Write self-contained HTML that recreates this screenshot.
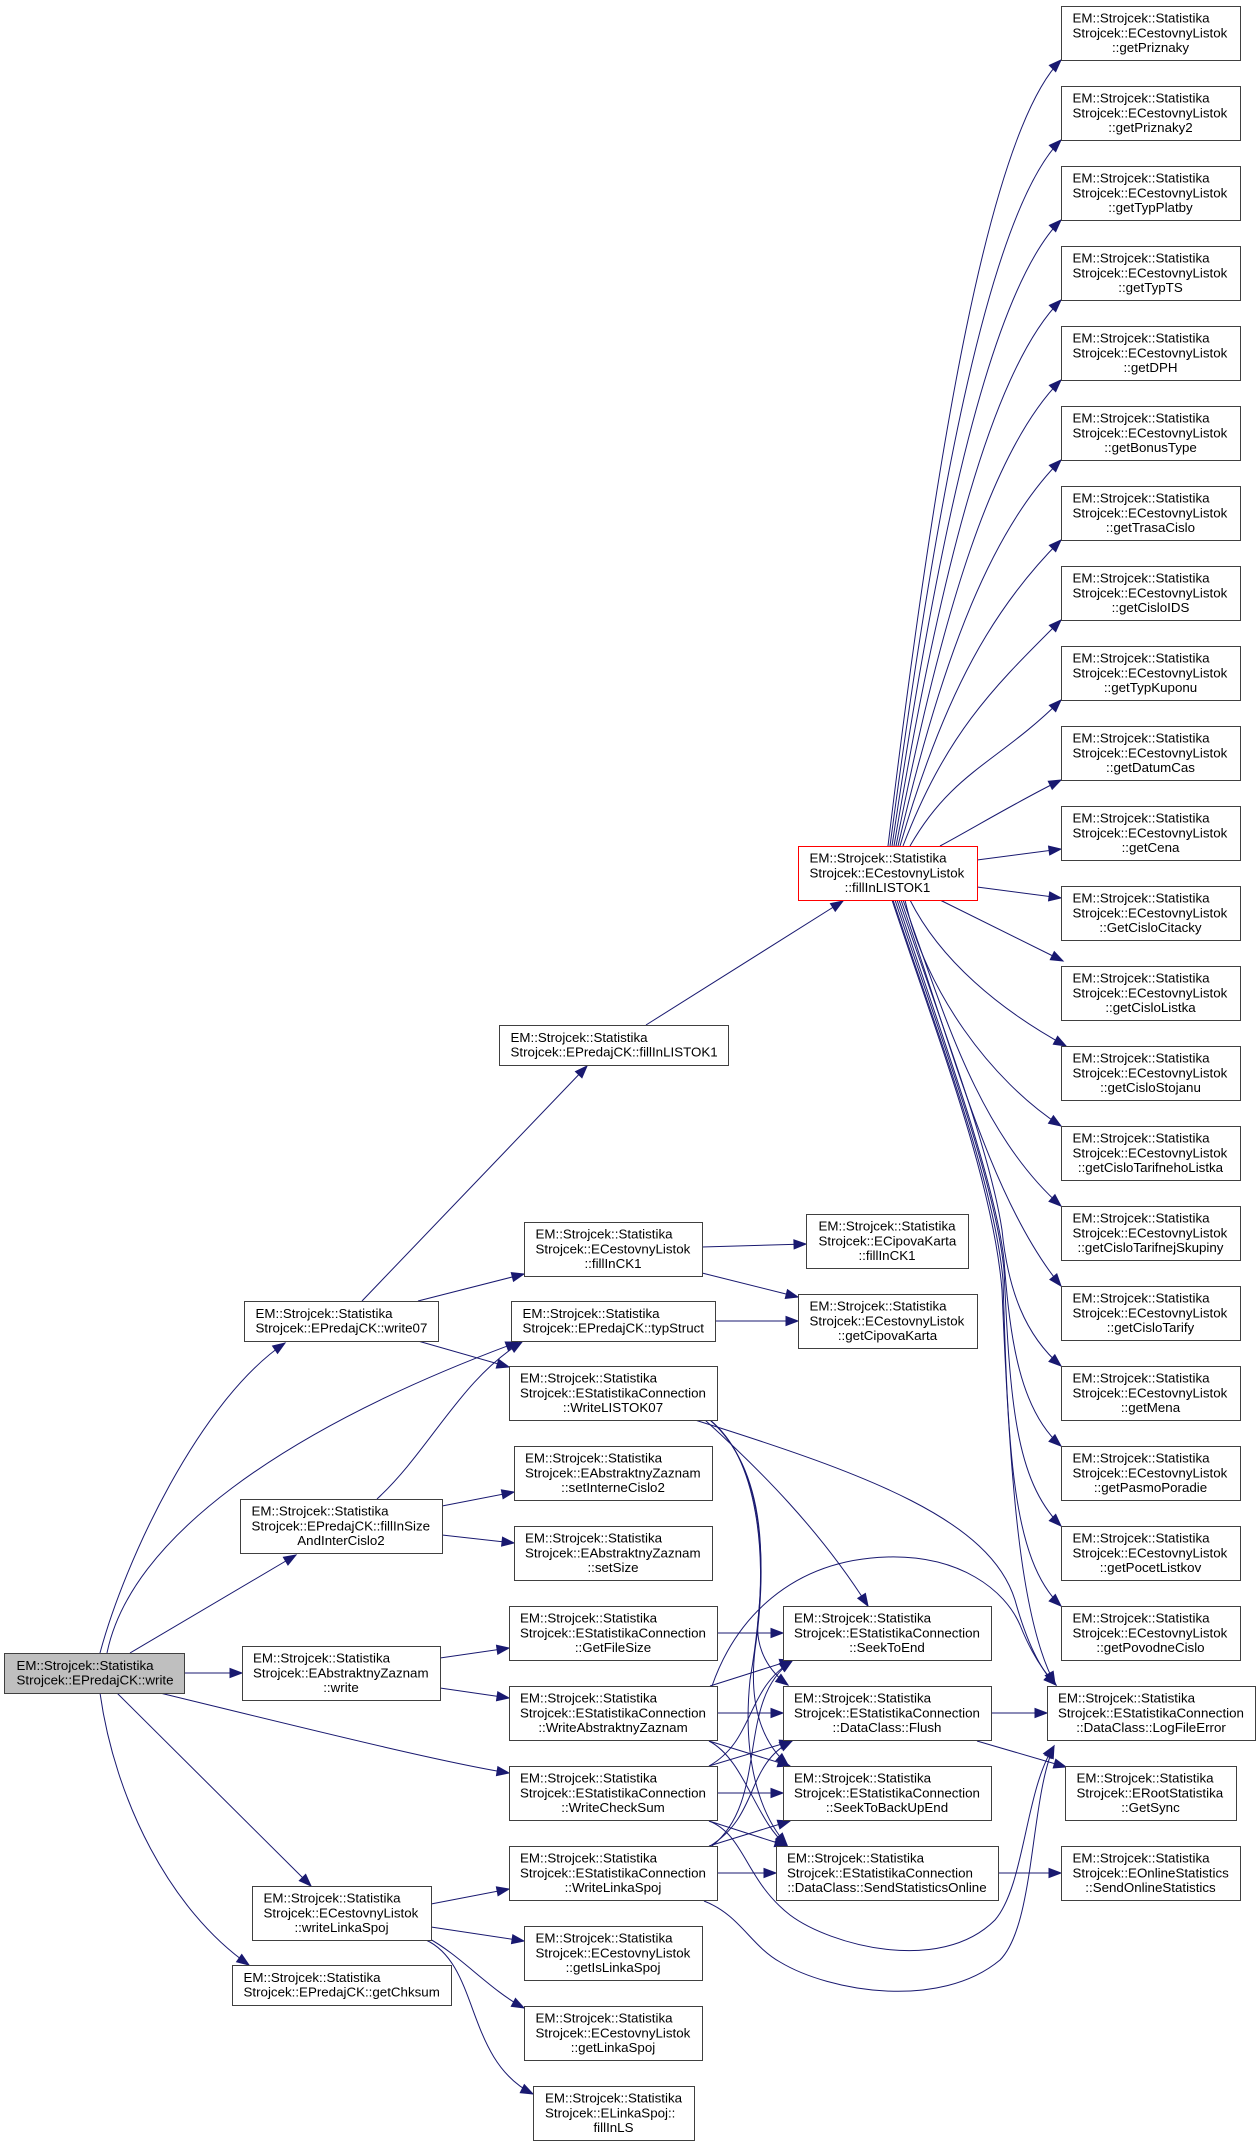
<!DOCTYPE html>
<html><head><meta charset="utf-8"><style>
html,body{margin:0;padding:0;background:#fff;}
svg{display:block;}
rect{fill:#fff;stroke:#404040;stroke-width:1;}
text{font-family:"Liberation Sans",Arial,sans-serif;font-size:13.33px;fill:#000;}
.m{text-anchor:middle;}
.e path{fill:none;stroke:#191970;stroke-width:1;marker-end:url(#a);}
</style></head><body>
<svg width="1260" height="2147" viewBox="0 0 1260 2147" xmlns="http://www.w3.org/2000/svg">
<defs><marker id="a" markerWidth="14" markerHeight="10" refX="12" refY="4.5" orient="auto" markerUnits="userSpaceOnUse" overflow="visible"><path d="M0,0 L12,4.5 L0,9 z" fill="#191970" stroke="#191970" stroke-width="1"/></marker></defs>
<g class="e">
<!-- red fan upper -->
<path d="M888,846 C936.4,445.1 990.1,130.9 1061,60"/>
<path d="M890,846 C937.9,485.9 990.9,210.1 1061,140"/>
<path d="M892,846 C939.3,526.7 991.7,289.3 1061,220"/>
<path d="M894,846 C940.8,567.5 992.5,368.5 1061,300"/>
<path d="M896,846 C942.2,608.3 993.4,447.7 1061,380"/>
<path d="M898,846 C943.6,649.1 994.2,526.8 1061,460"/>
<path d="M900,846 C945.1,689.9 995,606 1061,540"/>
<path d="M903,846 C947.2,730.7 996.2,684.8 1061,620"/>
<path d="M910,846 C952.3,771.5 999.1,761.9 1061,700"/>
<path d="M940,846 C970,830 1020,800 1061,780"/>
<path d="M977,860 L1061,849"/>
<path d="M977,887 L1061,898"/>
<path d="M940,900 L1063,961"/>
<path d="M910,900 C940,960 1000,1010 1066,1046"/>
<path d="M905,900 C925,990 990,1080 1061,1126"/>
<path d="M903,900 C940,1000 975,1130 1061,1206"/>
<path d="M901,900 C950,1040 990,1200 1061,1286"/>
<path d="M899,900 C940,1020 990,1150 1002,1230 C1008,1290 1025,1335 1061,1366"/>
<path d="M897,900 C940,1030 995,1180 1004,1260 C1010,1340 1020,1410 1061,1446"/>
<path d="M895,900 C938,1030 995,1180 1004,1270 C1010,1400 1015,1480 1061,1526"/>
<path d="M893,900 C936,1030 994,1180 1003,1280 C1008,1450 1012,1560 1061,1606"/>
<path d="M892,900 C935,1030 993,1180 1002,1290 C1010,1480 1020,1620 1055,1684"/>
<!-- upper left -->
<path d="M362,1301 L587,1066"/>
<path d="M646,1025 L843,901"/>
<path d="M418,1301 L524,1274"/>
<path d="M418,1341 L509,1367"/>
<path d="M702,1247 L806,1244"/>
<path d="M702,1273 L798,1297"/>
<path d="M715,1321 L798,1321"/>
<path d="M100,1653 C125,1560 200,1400 285,1343"/>
<path d="M107,1653 C130,1540 280,1430 518,1342"/>
<path d="M377,1499 C430,1450 460,1380 522,1342"/>
<path d="M130,1653 L296,1555"/>
<path d="M184,1673 L242,1673"/>
<path d="M160,1693 C300,1727 440,1762 509,1773"/>
<path d="M117,1693 L311,1886"/>
<path d="M100,1693 C115,1800 170,1910 249,1965"/>
<path d="M442,1506 L514,1492"/>
<path d="M442,1535 L514,1543"/>
<path d="M440,1658 L509,1648"/>
<path d="M440,1688 L509,1698"/>
<path d="M431,1904 L509,1889"/>
<path d="M431,1927 L524,1941"/>
<path d="M428,1938 C460,1955 490,1990 524,2008"/>
<path d="M426,1940 C480,1965 465,2060 533,2094"/>
<!-- col3 -> col4/5 -->
<path d="M717,1633 L783,1633"/>
<path d="M717,1713 L783,1713"/>
<path d="M717,1793 L783,1793"/>
<path d="M717,1873 L776,1873"/>
<path d="M991,1713 L1047,1713"/>
<path d="M977,1741 L1066,1767"/>
<path d="M998,1873 L1061,1873"/>
<path d="M705,1420 C760,1470 820,1530 868,1606"/>
<path d="M695,1420 C870,1475 990,1520 1015,1600 C1022,1625 1035,1665 1056,1685"/>
<path d="M712,1686 C735,1620 790,1560 887,1557 C960,1555 1005,1590 1020,1625 C1028,1645 1040,1668 1056,1685"/>
<path d="M710,1420 C760,1460 765,1560 758,1620 C755,1650 770,1672 788,1685"/>
<path d="M710,1420 C763,1465 768,1560 755,1650 C748,1710 765,1745 788,1765"/>
<path d="M710,1420 C766,1470 770,1560 750,1680 C742,1760 760,1815 787,1845"/>
<path d="M710,1686 L792,1660"/>
<path d="M709,1741 L790,1766"/>
<path d="M709,1741 C745,1760 755,1820 787,1846"/>
<path d="M709,1766 L792,1741"/>
<path d="M709,1766 C755,1740 745,1690 792,1661"/>
<path d="M709,1821 L787,1846"/>
<path d="M709,1821 C745,1835 745,1880 790,1915 C830,1945 940,1975 995,1920 C1025,1885 1025,1790 1054,1746"/>
<path d="M709,1846 L790,1821"/>
<path d="M710,1846 C760,1815 745,1765 792,1741"/>
<path d="M712,1846 C770,1800 735,1700 792,1661"/>
<path d="M704,1901 C740,1915 750,1945 780,1962 C830,1992 940,2010 1000,1960 C1035,1925 1030,1800 1054,1746"/>
</g>
<!-- right column -->
<g transform="translate(1061,6)"><rect x=".5" y=".5" width="179" height="54"/><text x="11.5" y="16.3">EM::Strojcek::Statistika</text><text x="11.5" y="31.3">Strojcek::ECestovnyListok</text><text class="m" x="89.5" y="46">::getPriznaky</text></g>
<g transform="translate(1061,86)"><rect x=".5" y=".5" width="179" height="54"/><text x="11.5" y="16.3">EM::Strojcek::Statistika</text><text x="11.5" y="31.3">Strojcek::ECestovnyListok</text><text class="m" x="89.5" y="46">::getPriznaky2</text></g>
<g transform="translate(1061,166)"><rect x=".5" y=".5" width="179" height="54"/><text x="11.5" y="16.3">EM::Strojcek::Statistika</text><text x="11.5" y="31.3">Strojcek::ECestovnyListok</text><text class="m" x="89.5" y="46">::getTypPlatby</text></g>
<g transform="translate(1061,246)"><rect x=".5" y=".5" width="179" height="54"/><text x="11.5" y="16.3">EM::Strojcek::Statistika</text><text x="11.5" y="31.3">Strojcek::ECestovnyListok</text><text class="m" x="89.5" y="46">::getTypTS</text></g>
<g transform="translate(1061,326)"><rect x=".5" y=".5" width="179" height="54"/><text x="11.5" y="16.3">EM::Strojcek::Statistika</text><text x="11.5" y="31.3">Strojcek::ECestovnyListok</text><text class="m" x="89.5" y="46">::getDPH</text></g>
<g transform="translate(1061,406)"><rect x=".5" y=".5" width="179" height="54"/><text x="11.5" y="16.3">EM::Strojcek::Statistika</text><text x="11.5" y="31.3">Strojcek::ECestovnyListok</text><text class="m" x="89.5" y="46">::getBonusType</text></g>
<g transform="translate(1061,486)"><rect x=".5" y=".5" width="179" height="54"/><text x="11.5" y="16.3">EM::Strojcek::Statistika</text><text x="11.5" y="31.3">Strojcek::ECestovnyListok</text><text class="m" x="89.5" y="46">::getTrasaCislo</text></g>
<g transform="translate(1061,566)"><rect x=".5" y=".5" width="179" height="54"/><text x="11.5" y="16.3">EM::Strojcek::Statistika</text><text x="11.5" y="31.3">Strojcek::ECestovnyListok</text><text class="m" x="89.5" y="46">::getCisloIDS</text></g>
<g transform="translate(1061,646)"><rect x=".5" y=".5" width="179" height="54"/><text x="11.5" y="16.3">EM::Strojcek::Statistika</text><text x="11.5" y="31.3">Strojcek::ECestovnyListok</text><text class="m" x="89.5" y="46">::getTypKuponu</text></g>
<g transform="translate(1061,726)"><rect x=".5" y=".5" width="179" height="54"/><text x="11.5" y="16.3">EM::Strojcek::Statistika</text><text x="11.5" y="31.3">Strojcek::ECestovnyListok</text><text class="m" x="89.5" y="46">::getDatumCas</text></g>
<g transform="translate(1061,806)"><rect x=".5" y=".5" width="179" height="54"/><text x="11.5" y="16.3">EM::Strojcek::Statistika</text><text x="11.5" y="31.3">Strojcek::ECestovnyListok</text><text class="m" x="89.5" y="46">::getCena</text></g>
<g transform="translate(1061,886)"><rect x=".5" y=".5" width="179" height="54"/><text x="11.5" y="16.3">EM::Strojcek::Statistika</text><text x="11.5" y="31.3">Strojcek::ECestovnyListok</text><text class="m" x="89.5" y="46">::GetCisloCitacky</text></g>
<g transform="translate(1061,966)"><rect x=".5" y=".5" width="179" height="54"/><text x="11.5" y="16.3">EM::Strojcek::Statistika</text><text x="11.5" y="31.3">Strojcek::ECestovnyListok</text><text class="m" x="89.5" y="46">::getCisloListka</text></g>
<g transform="translate(1061,1046)"><rect x=".5" y=".5" width="179" height="54"/><text x="11.5" y="16.3">EM::Strojcek::Statistika</text><text x="11.5" y="31.3">Strojcek::ECestovnyListok</text><text class="m" x="89.5" y="46">::getCisloStojanu</text></g>
<g transform="translate(1061,1126)"><rect x=".5" y=".5" width="179" height="54"/><text x="11.5" y="16.3">EM::Strojcek::Statistika</text><text x="11.5" y="31.3">Strojcek::ECestovnyListok</text><text class="m" x="89.5" y="46">::getCisloTarifnehoListka</text></g>
<g transform="translate(1061,1206)"><rect x=".5" y=".5" width="179" height="54"/><text x="11.5" y="16.3">EM::Strojcek::Statistika</text><text x="11.5" y="31.3">Strojcek::ECestovnyListok</text><text class="m" x="89.5" y="46">::getCisloTarifnejSkupiny</text></g>
<g transform="translate(1061,1286)"><rect x=".5" y=".5" width="179" height="54"/><text x="11.5" y="16.3">EM::Strojcek::Statistika</text><text x="11.5" y="31.3">Strojcek::ECestovnyListok</text><text class="m" x="89.5" y="46">::getCisloTarify</text></g>
<g transform="translate(1061,1366)"><rect x=".5" y=".5" width="179" height="54"/><text x="11.5" y="16.3">EM::Strojcek::Statistika</text><text x="11.5" y="31.3">Strojcek::ECestovnyListok</text><text class="m" x="89.5" y="46">::getMena</text></g>
<g transform="translate(1061,1446)"><rect x=".5" y=".5" width="179" height="54"/><text x="11.5" y="16.3">EM::Strojcek::Statistika</text><text x="11.5" y="31.3">Strojcek::ECestovnyListok</text><text class="m" x="89.5" y="46">::getPasmoPoradie</text></g>
<g transform="translate(1061,1526)"><rect x=".5" y=".5" width="179" height="54"/><text x="11.5" y="16.3">EM::Strojcek::Statistika</text><text x="11.5" y="31.3">Strojcek::ECestovnyListok</text><text class="m" x="89.5" y="46">::getPocetListkov</text></g>
<g transform="translate(1061,1606)"><rect x=".5" y=".5" width="179" height="54"/><text x="11.5" y="16.3">EM::Strojcek::Statistika</text><text x="11.5" y="31.3">Strojcek::ECestovnyListok</text><text class="m" x="89.5" y="46">::getPovodneCislo</text></g>
<!-- col5 lower -->
<g transform="translate(1047,1686)"><rect x=".5" y=".5" width="208" height="54"/><text x="11" y="16.3">EM::Strojcek::Statistika</text><text x="11" y="31.3">Strojcek::EStatistikaConnection</text><text class="m" x="104" y="46">::DataClass::LogFileError</text></g>
<g transform="translate(1065,1766)"><rect x=".5" y=".5" width="171" height="54"/><text x="11.5" y="16.3">EM::Strojcek::Statistika</text><text x="11.5" y="31.3">Strojcek::ERootStatistika</text><text class="m" x="85.5" y="46">::GetSync</text></g>
<g transform="translate(1061,1846)"><rect x=".5" y=".5" width="179" height="54"/><text x="11.5" y="16.3">EM::Strojcek::Statistika</text><text x="11.5" y="31.3">Strojcek::EOnlineStatistics</text><text class="m" x="89.5" y="46">::SendOnlineStatistics</text></g>
<!-- red node -->
<g transform="translate(798,846)"><rect x=".5" y=".5" width="179" height="54" style="stroke:#ff0000"/><text x="11.5" y="16.3">EM::Strojcek::Statistika</text><text x="11.5" y="31.3">Strojcek::ECestovnyListok</text><text class="m" x="89.5" y="46">::fillInLISTOK1</text></g>
<!-- col4 -->
<g transform="translate(806,1214)"><rect x=".5" y=".5" width="162" height="54"/><text x="12.5" y="16.3">EM::Strojcek::Statistika</text><text x="12.5" y="31.3">Strojcek::ECipovaKarta</text><text class="m" x="81" y="46">::fillInCK1</text></g>
<g transform="translate(798,1294)"><rect x=".5" y=".5" width="179" height="54"/><text x="11.5" y="16.3">EM::Strojcek::Statistika</text><text x="11.5" y="31.3">Strojcek::ECestovnyListok</text><text class="m" x="89.5" y="46">::getCipovaKarta</text></g>
<g transform="translate(783,1606)"><rect x=".5" y=".5" width="208" height="54"/><text x="11" y="16.3">EM::Strojcek::Statistika</text><text x="11" y="31.3">Strojcek::EStatistikaConnection</text><text class="m" x="104" y="46">::SeekToEnd</text></g>
<g transform="translate(783,1686)"><rect x=".5" y=".5" width="208" height="54"/><text x="11" y="16.3">EM::Strojcek::Statistika</text><text x="11" y="31.3">Strojcek::EStatistikaConnection</text><text class="m" x="104" y="46">::DataClass::Flush</text></g>
<g transform="translate(783,1766)"><rect x=".5" y=".5" width="208" height="54"/><text x="11" y="16.3">EM::Strojcek::Statistika</text><text x="11" y="31.3">Strojcek::EStatistikaConnection</text><text class="m" x="104" y="46">::SeekToBackUpEnd</text></g>
<g transform="translate(776,1846)"><rect x=".5" y=".5" width="222" height="54"/><text x="11" y="16.3">EM::Strojcek::Statistika</text><text x="11" y="31.3">Strojcek::EStatistikaConnection</text><text class="m" x="111" y="46">::DataClass::SendStatisticsOnline</text></g>
<!-- col3 -->
<g transform="translate(499,1025)"><rect x=".5" y=".5" width="229" height="40"/><text x="11.5" y="17">EM::Strojcek::Statistika</text><text x="11.5" y="31.7">Strojcek::EPredajCK::fillInLISTOK1</text></g>
<g transform="translate(524,1222)"><rect x=".5" y=".5" width="178" height="54"/><text x="11.5" y="16.3">EM::Strojcek::Statistika</text><text x="11.5" y="31.3">Strojcek::ECestovnyListok</text><text class="m" x="89" y="46">::fillInCK1</text></g>
<g transform="translate(511,1301)"><rect x=".5" y=".5" width="204" height="40"/><text x="11.5" y="17">EM::Strojcek::Statistika</text><text x="11.5" y="31.7">Strojcek::EPredajCK::typStruct</text></g>
<g transform="translate(509,1366)"><rect x=".5" y=".5" width="208" height="54"/><text x="11" y="16.3">EM::Strojcek::Statistika</text><text x="11" y="31.3">Strojcek::EStatistikaConnection</text><text class="m" x="104" y="46">::WriteLISTOK07</text></g>
<g transform="translate(514,1446)"><rect x=".5" y=".5" width="198" height="54"/><text x="11" y="16.3">EM::Strojcek::Statistika</text><text x="11" y="31.3">Strojcek::EAbstraktnyZaznam</text><text class="m" x="99" y="46">::setInterneCislo2</text></g>
<g transform="translate(514,1526)"><rect x=".5" y=".5" width="198" height="54"/><text x="11" y="16.3">EM::Strojcek::Statistika</text><text x="11" y="31.3">Strojcek::EAbstraktnyZaznam</text><text class="m" x="99" y="46">::setSize</text></g>
<g transform="translate(509,1606)"><rect x=".5" y=".5" width="208" height="54"/><text x="11" y="16.3">EM::Strojcek::Statistika</text><text x="11" y="31.3">Strojcek::EStatistikaConnection</text><text class="m" x="104" y="46">::GetFileSize</text></g>
<g transform="translate(509,1686)"><rect x=".5" y=".5" width="208" height="54"/><text x="11" y="16.3">EM::Strojcek::Statistika</text><text x="11" y="31.3">Strojcek::EStatistikaConnection</text><text class="m" x="104" y="46">::WriteAbstraktnyZaznam</text></g>
<g transform="translate(509,1766)"><rect x=".5" y=".5" width="208" height="54"/><text x="11" y="16.3">EM::Strojcek::Statistika</text><text x="11" y="31.3">Strojcek::EStatistikaConnection</text><text class="m" x="104" y="46">::WriteCheckSum</text></g>
<g transform="translate(509,1846)"><rect x=".5" y=".5" width="208" height="54"/><text x="11" y="16.3">EM::Strojcek::Statistika</text><text x="11" y="31.3">Strojcek::EStatistikaConnection</text><text class="m" x="104" y="46">::WriteLinkaSpoj</text></g>
<g transform="translate(524,1926)"><rect x=".5" y=".5" width="178" height="54"/><text x="11.5" y="16.3">EM::Strojcek::Statistika</text><text x="11.5" y="31.3">Strojcek::ECestovnyListok</text><text class="m" x="89" y="46">::getIsLinkaSpoj</text></g>
<g transform="translate(524,2006)"><rect x=".5" y=".5" width="178" height="54"/><text x="11.5" y="16.3">EM::Strojcek::Statistika</text><text x="11.5" y="31.3">Strojcek::ECestovnyListok</text><text class="m" x="89" y="46">::getLinkaSpoj</text></g>
<g transform="translate(533,2086)"><rect x=".5" y=".5" width="161" height="54"/><text x="12" y="16.3">EM::Strojcek::Statistika</text><text x="12" y="31.3">Strojcek::ELinkaSpoj::</text><text class="m" x="80.5" y="46">fillInLS</text></g>
<!-- col2 -->
<g transform="translate(244,1301)"><rect x=".5" y=".5" width="194" height="40"/><text x="11.5" y="17">EM::Strojcek::Statistika</text><text x="11.5" y="31.7">Strojcek::EPredajCK::write07</text></g>
<g transform="translate(240,1499)"><rect x=".5" y=".5" width="202" height="54"/><text x="11.5" y="16.3">EM::Strojcek::Statistika</text><text x="11.5" y="31.3">Strojcek::EPredajCK::fillInSize</text><text class="m" x="101" y="46">AndInterCislo2</text></g>
<g transform="translate(242,1646)"><rect x=".5" y=".5" width="198" height="54"/><text x="11" y="16.3">EM::Strojcek::Statistika</text><text x="11" y="31.3">Strojcek::EAbstraktnyZaznam</text><text class="m" x="99" y="46">::write</text></g>
<g transform="translate(252,1886)"><rect x=".5" y=".5" width="179" height="54"/><text x="11.5" y="16.3">EM::Strojcek::Statistika</text><text x="11.5" y="31.3">Strojcek::ECestovnyListok</text><text class="m" x="89.5" y="46">::writeLinkaSpoj</text></g>
<g transform="translate(232,1965)"><rect x=".5" y=".5" width="219" height="40"/><text x="11.5" y="17">EM::Strojcek::Statistika</text><text x="11.5" y="31.7">Strojcek::EPredajCK::getChksum</text></g>
<!-- main -->
<g transform="translate(4,1653)"><rect x=".5" y=".5" width="180" height="40" style="fill:#bfbfbf"/><text x="12.5" y="17">EM::Strojcek::Statistika</text><text x="12.5" y="31.7">Strojcek::EPredajCK::write</text></g>
</svg>
</body></html>
